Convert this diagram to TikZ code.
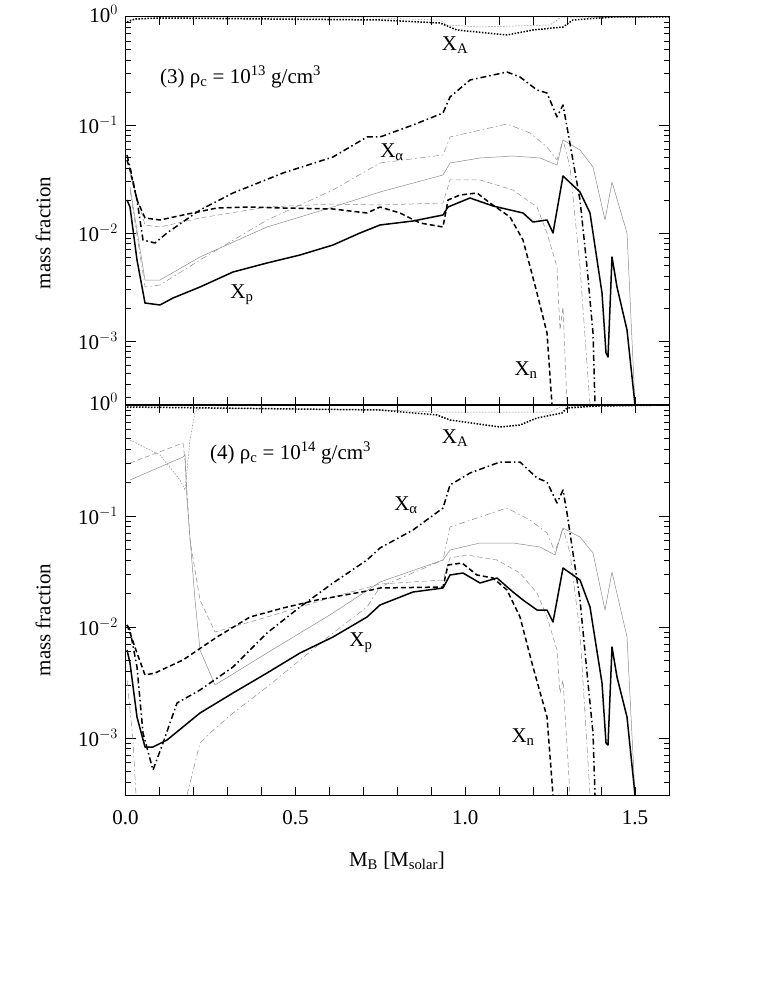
\documentclass[tikz,border=0pt]{standalone}
\usepackage{fontspec}
\setmainfont{Liberation Serif}
\begin{document}
\begin{tikzpicture}[x=1pt,y=-1pt,
  thk/.style={line width=1.5pt,black,line join=round},
  thn/.style={line width=0.5pt,black!45,line join=round},
  dsh/.style={dash pattern=on 5pt off 3pt},
  dd/.style={dash pattern=on 6pt off 3pt on 1.5pt off 3pt},
  dt/.style={dash pattern=on 1.5pt off 1.5pt},
  lbl/.style={font=\fontsize{21}{23}\selectfont,inner sep=0pt},
  tick/.style={line width=0.7pt}]
\useasboundingbox (0,0) rectangle (763,987);
% frames
\draw[line width=1pt] (125.6,17) rectangle (669,795);
\draw[line width=2pt] (125.6,405) -- (669,405);
% x ticks
\foreach \i in {0,...,16}{
  \pgfmathsetmacro{\xx}{125.6+33.96*\i}
  \foreach \yb/\dir in {17/1,405/1,405/-1,795/-1}
    \draw[tick] (\xx,\yb) -- ++(0,8*\dir);
}
% y ticks
\foreach \yz/\sp/\nd in {17/108/4,405/111/4}{
  \foreach \d in {0,...,\nd}{
    \foreach \k in {1,...,9}{
      \pgfmathsetmacro{\yy}{\yz+\sp*(\d-log10(\k))}
      \pgfmathsetmacro{\ln}{ifthenelse(\k==1,10,5)}
      \ifdim\yy pt<\ifnum\yz=17 405pt\else 795pt\fi
      \ifdim\yy pt>\yz pt
        \draw[tick] (125.6,\yy) -- ++(\ln,0);
        \draw[tick] (669,\yy) -- ++(-\ln,0);
      \fi\fi
    }
  }
}
% y labels
\foreach \yz/\sp in {17/108,405/111}{
  \foreach \d in {0,1,2,3}{
    \pgfmathsetmacro{\yy}{\yz+\sp*\d}
    \ifnum\d=0 \node[lbl,anchor=east] (yl\yz\d) at (118,\yy-3) {10$^{0}$};
    \else \node[lbl,anchor=east] (yl\yz\d) at (118,\yy) {10$^{-\d}$};\fi
  }
}
% x labels
\foreach \v/\t in {0/0.0,5/0.5,10/1.0,15/1.5}
  \node[lbl] (xl\v) at ({125.6+33.96*\v},818) {\t};
\node[lbl] (xlab) at (397,861) {M$_{\rm B}$ [M$_{\rm solar}$]};
\node[lbl,rotate=90] (ml1) at (43,233) {mass fraction};
\node[lbl,rotate=90] (ml2) at (43,620) {mass fraction};
% panel texts
\node[lbl,anchor=west] (t3) at (160,77) {(3) ρ\textsubscript{c} = 10\textsuperscript{13} g/cm\textsuperscript{3}};
\node[lbl,anchor=west] (t4) at (210,453) {(4) ρ\textsubscript{c} = 10\textsuperscript{14} g/cm\textsuperscript{3}};
\node[lbl] (xa1) at (455,45) {X\textsubscript{A}};
\node[lbl] (xal1) at (392,152) {X\textsubscript{α}};
\node[lbl] (xp1) at (242,295) {X\textsubscript{p}};
\node[lbl] (xn1) at (526,370) {X\textsubscript{n}};
\node[lbl] (xa2) at (455,438) {X\textsubscript{A}};
\node[lbl] (xal2) at (406,505) {X\textsubscript{α}};
\node[lbl] (xp2) at (361,643) {X\textsubscript{p}};
\node[lbl] (xn2) at (523,737) {X\textsubscript{n}};
% ===== top panel =====
\begin{scope}
\clip (125.6,17) rectangle (669,405);
\draw[thn] (130,187)--(145,280)--(160,280)--(200,257)--(267,227)--(333,207)--(380,192)--(443,175)--(450,163)--(480,158)--(513,156)--(540,158)--(557,165)--(563,140)--(580,150)--(593,167)--(605,220)--(612,182)--(627,233)--(635,405);
\draw[thn,dd] (130,190)--(145,287)--(160,285)--(200,260)--(267,220)--(333,190)--(380,163)--(443,155)--(450,137)--(507,124)--(530,133)--(547,147)--(557,160)--(563,140)--(570,167)--(580,267)--(590,405);
\draw[thn,dsh] (130,173)--(145,225)--(160,227)--(200,218)--(267,207)--(333,204)--(380,205)--(443,203)--(450,180)--(480,180)--(513,190)--(537,207)--(547,233)--(557,267)--(560,330)--(563,307)--(567,405);
\draw[thn,dt] (127,20)--(160,18)--(380,18)--(440,20)--(447,25)--(480,27)--(550,25)--(560,18)--(669,17);
\draw[thk] (127,200)--(130,207)--(137,260)--(145,303)--(160,305)--(173,298)--(200,287)--(233,272)--(267,263)--(300,255)--(333,245)--(360,233)--(380,225)--(413,221)--(443,215)--(448,207)--(470,198)--(493,206)--(523,213)--(533,222)--(547,220)--(553,233)--(563,176)--(580,192)--(590,213)--(602,293)--(606,353)--(608,357)--(612,257)--(617,287)--(627,330)--(635,405);
\draw[thk,dsh] (127,160)--(130,170)--(137,200)--(145,218)--(160,220)--(183,215)--(217,208)--(250,207)--(283,208)--(333,209)--(367,213)--(380,207)--(400,213)--(420,223)--(443,227)--(448,200)--(460,195)--(477,193)--(490,203)--(510,217)--(523,240)--(537,293)--(547,333)--(552,405);
\draw[thk,dd] (127,155)--(130,167)--(137,200)--(143,240)--(155,243)--(167,233)--(200,210)--(233,193)--(283,173)--(333,157)--(367,137)--(380,137)--(413,125)--(443,113)--(450,97)--(470,80)--(507,72)--(520,77)--(537,90)--(547,93)--(557,117)--(563,105)--(567,127)--(580,200)--(587,267)--(593,333)--(595,405);
\draw[thk,dt] (127,22)--(135,19)--(160,18)--(380,20)--(440,23)--(457,30)--(507,35)--(533,30)--(563,27)--(573,20)--(613,17)--(669,17);
\end{scope}
% ===== bottom panel =====
\begin{scope}
\clip (125.6,405) rectangle (669,795);
\draw[thn] (130,480)--(183,457)--(185,455)--(187,500)--(195,600)--(200,650)--(215,685)--(267,653)--(333,613)--(380,582)--(443,560)--(450,550)--(480,543)--(513,543)--(540,547)--(555,555)--(563,528)--(580,537)--(593,553)--(605,610)--(612,572)--(627,637)--(635,795);
\draw[thn,dsh] (130,463)--(183,443)--(185,460)--(190,540)--(200,600)--(215,632)--(267,617)--(333,597)--(380,584)--(443,580)--(450,558)--(467,555)--(497,560)--(520,573)--(537,593)--(547,617)--(557,650)--(560,693)--(563,680)--(570,795);
\draw[thn,dt] (130,440)--(160,455)--(180,480)--(185,490)--(190,440)--(195,412)--(200,408)--(380,410)--(440,412)--(550,412)--(560,407)--(669,405);
\draw[thn,dd] (127,680)--(133,740)--(136,795);
\draw[thn,dd] (187,795)--(200,743)--(210,733)--(233,713)--(267,687)--(300,660)--(333,633)--(367,607)--(380,587)--(443,560)--(450,527)--(507,508)--(530,520)--(547,533)--(555,552)--(563,528)--(570,553)--(580,633)--(590,795);
\draw[thk] (127,650)--(130,663)--(137,717)--(145,747)--(153,747)--(167,740)--(200,713)--(233,693)--(267,673)--(300,653)--(333,637)--(367,617)--(380,605)--(413,592)--(443,588)--(450,575)--(463,573)--(480,583)--(497,578)--(513,592)--(523,600)--(537,610)--(547,610)--(553,622)--(563,568)--(580,580)--(590,607)--(602,683)--(606,743)--(608,745)--(612,647)--(617,677)--(627,717)--(635,795);
\draw[thk,dsh] (127,625)--(130,633)--(137,653)--(145,675)--(155,673)--(183,660)--(217,637)--(250,617)--(283,608)--(317,600)--(367,591)--(380,588)--(443,587)--(448,565)--(462,563)--(477,575)--(493,578)--(507,590)--(520,617)--(533,667)--(547,717)--(553,795);
\draw[thk,dd] (127,625)--(130,630)--(137,667)--(143,733)--(153,770)--(163,743)--(177,703)--(200,690)--(233,667)--(267,633)--(300,607)--(333,583)--(367,560)--(380,548)--(413,530)--(443,508)--(450,485)--(470,473)--(500,462)--(520,462)--(537,478)--(547,482)--(557,503)--(563,490)--(567,513)--(580,600)--(588,683)--(593,733)--(595,795);
\draw[thk,dt] (127,407)--(380,410)--(437,415)--(450,420)--(500,427)--(520,425)--(537,418)--(562,413)--(567,408)--(597,406)--(669,405);
\end{scope}
\end{tikzpicture}
\end{document}
